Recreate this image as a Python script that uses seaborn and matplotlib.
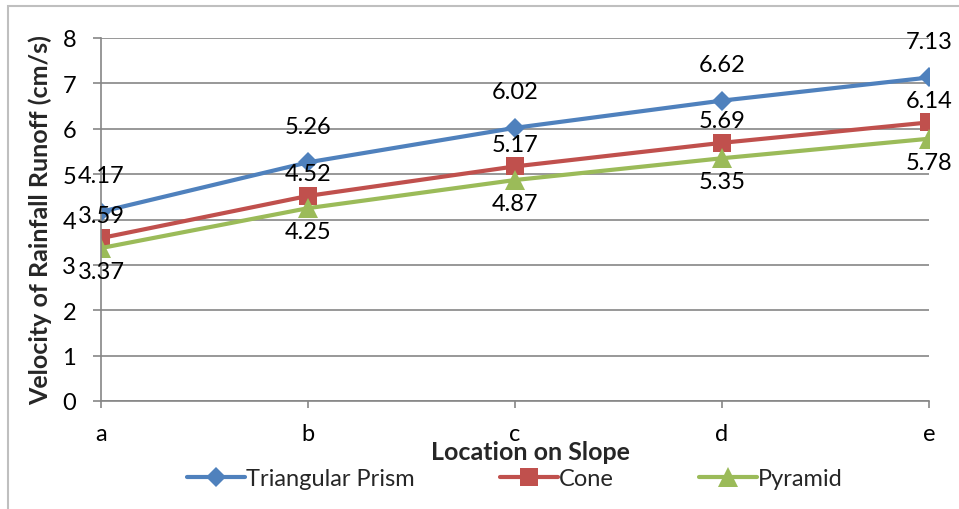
import matplotlib
matplotlib.use("Agg")
import matplotlib.pyplot as plt
import seaborn as sns
import pandas as pd
from matplotlib.patches import Rectangle

locations = ["a", "b", "c", "d", "e"]
triangular_prism = [4.17, 5.26, 6.02, 6.62, 7.13]
cone = [3.59, 4.52, 5.17, 5.69, 6.14]
pyramid = [3.37, 4.25, 4.87, 5.35, 5.78]
series_names = ["Triangular Prism", "Cone", "Pyramid"]
y_ticks = [0, 1, 2, 3, 4, 5, 6, 7, 8]

colors = ["#4F81BD", "#C0504D", "#9BBB59"]
markers = ["D", "s", "^"]
marker_sizes = [10.5, 13, 14]
# label offsets in points (positive = above the point)
label_offsets = [26, 16, -17]
FS = 17
TITLE_FS = 18

sns.set_theme(style="white")
plt.rcParams["font.family"] = ["Lato", "DejaVu Sans"]

df = pd.DataFrame({
    "Location": locations * 3,
    "Velocity": triangular_prism + cone + pyramid,
    "Shape": [n for n in series_names for _ in locations],
})

fig = plt.figure(figsize=(9.59, 5.10), dpi=100)
ax = fig.add_axes([101 / 959, 1 - 402 / 510, (929 - 101) / 959, (402 - 39) / 510])

sns.lineplot(
    data=df, x="Location", y="Velocity", hue="Shape", style="Shape",
    hue_order=series_names, style_order=series_names,
    palette=colors, markers=markers, dashes=False, linewidth=3,
    markeredgewidth=0, legend=False, ax=ax, sort=False,
)

for line, ms in zip(ax.lines, marker_sizes):
    line.set_markersize(ms)
    line.set_markeredgewidth(0)

ax.set_xlim(0, 4)
ax.set_ylim(0, 8)
ax.set_yticks(y_ticks)
ax.set_yticklabels([str(t) for t in y_ticks])
ax.grid(axis="y", color="#868686", linewidth=1.2)
ax.set_axisbelow(True)

for side in ["top", "right"]:
    ax.spines[side].set_visible(False)
for side in ["left", "bottom"]:
    ax.spines[side].set_color("#868686")
    ax.spines[side].set_linewidth(1.2)

ax.tick_params(axis="y", which="major", length=6, width=1.2, color="#868686",
               pad=12, labelsize=FS, labelcolor="black", left=True)
ax.tick_params(axis="x", which="major", length=5, width=1.2, color="#868686",
               pad=11, labelsize=FS, labelcolor="black", bottom=True)

ax.set_xlabel("")
ax.set_ylabel("Velocity of Rainfall Runoff (cm/s)", fontsize=TITLE_FS,
              fontweight="bold", labelpad=7)

fig.text(530 / 959, 1 - 453 / 510, "Location on Slope", ha="center",
         va="center", fontsize=TITLE_FS, fontweight="bold")

values = [triangular_prism, cone, pyramid]
for vals, off in zip(values, label_offsets):
    for i, v in enumerate(vals):
        ax.annotate(f"{v:.2f}", (i, v), xytext=(0, off),
                    textcoords="offset points", ha="center", va="center",
                    fontsize=FS, color="black", annotation_clip=False)

fig.legend(handles=ax.lines[:3], labels=series_names, loc="center",
           bbox_to_anchor=(515 / 959, 1 - 480 / 510), ncol=3, frameon=False,
           fontsize=FS, handlelength=2.45, handletextpad=0.05,
           columnspacing=3.6)

fig.patches.append(Rectangle((8 / 959, -0.05), 1.0, 1 - 7 / 510 + 0.05,
                             transform=fig.transFigure, fill=False,
                             edgecolor="#BFBFBF", linewidth=1.5))

fig.savefig("out.png", dpi=100)
